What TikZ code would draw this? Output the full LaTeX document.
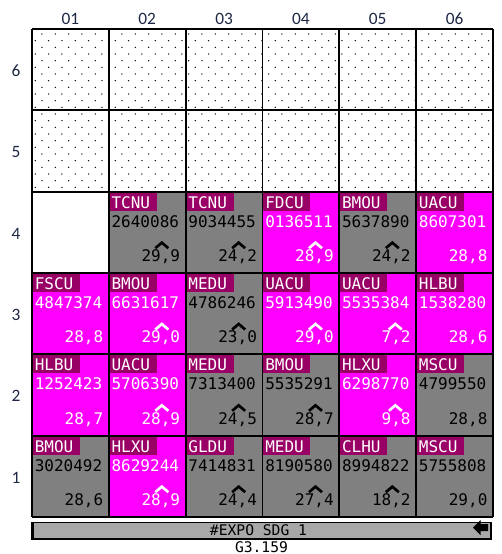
\documentclass[tikz,border=0pt]{standalone}
\usepackage{fontspec}
\newfontfamily\cellfont{DejaVu Sans Mono}
\newfontfamily\axisfont{Carlito}
\definecolor{cmag}{RGB}{255,0,255}
\definecolor{cgry}{RGB}{128,128,128}
\definecolor{clbl}{RGB}{153,0,102}
\definecolor{cbar}{RGB}{168,168,168}
\definecolor{caxis}{RGB}{30,40,70}
\tikzset{
  magfill/.style={fill=cmag}, magtext/.style={text=white}, magink/.style={draw=white},
  gryfill/.style={fill=cgry}, grytext/.style={text=black}, gryink/.style={draw=black},
  whtfill/.style={fill=white},
  lbltxt/.style={inner sep=0pt, text=white, font=\cellfont\fontsize{12}{12}\selectfont},
  numtxt/.style={inner sep=0pt, font=\cellfont\fontsize{12}{12}\selectfont},
  caretline/.style={line width=2pt, line join=miter, miter limit=10},
  gridline/.style={line width=1.4pt, black},
  axislbl/.style={font=\axisfont\fontsize{13}{13}\selectfont, text=caxis, inner sep=0pt},
  bartxt/.style={font=\cellfont\fontsize{11}{11}\selectfont, inner sep=0pt},
}
\newcommand\ctcell[7]{%
  \pgfmathsetmacro\cx{32+(#1-1)*76.83}%
  \pgfmathsetmacro\cy{29+(6-#2)*81.33}%
  \path[#3fill] (\cx,\cy) rectangle ++(76.83,81.33);
  \path[fill=clbl] (\cx+1,\cy+1) rectangle ++(47,18);
  \node[lbltxt, anchor=base west] (L#1#2) at (\cx+2.5,\cy+16.5) {#4};
  \node[numtxt, #3text, anchor=base west] (N#1#2) at (\cx+2.5,\cy+35.5) {#5};
  \node[numtxt, #3text, anchor=base east] (V#1#2) at (\cx+71.5,\cy+70) {#6};
  \ifnum#7>0
    \draw[caretline, #3ink] (\cx+#7-6.5,\cy+56.5) -- (\cx+#7,\cy+51) -- (\cx+#7+6.5,\cy+56.5);
  \fi
}
\begin{document}
\begin{tikzpicture}[x=0.75pt,y=-0.75pt]
\useasboundingbox (0,0) rectangle (501,554);
\fill[white] (0,0) rectangle (501,554);
% dotted area (rows 5 and 6)
\begin{scope}
  \clip (32,29) rectangle (493,192);
  \foreach \j in {0,...,23}{
    \foreach \i in {0,...,34}{
      \fill[black] ({35.3+6.667*mod(\j+1,2)+13.333*\i},{34+6.667*\j}) circle[radius=0.55pt];
    }
  }
\end{scope}
% row 4
\path[whtfill] (32,192) rectangle ++(76.83,81.33);
\ctcell{2}{4}{gry}{TCNU}{2640086}{29,9}{53}
\ctcell{3}{4}{gry}{TCNU}{9034455}{24,2}{53}
\ctcell{4}{4}{mag}{FDCU}{0136511}{28,9}{53}
\ctcell{5}{4}{gry}{BMOU}{5637890}{24,2}{53}
\ctcell{6}{4}{mag}{UACU}{8607301}{28,8}{0}
% row 3
\ctcell{1}{3}{mag}{FSCU}{4847374}{28,8}{0}
\ctcell{2}{3}{mag}{BMOU}{6631617}{29,0}{53}
\ctcell{3}{3}{gry}{MEDU}{4786246}{23,0}{53}
\ctcell{4}{3}{mag}{UACU}{5913490}{29,0}{53}
\ctcell{5}{3}{mag}{UACU}{5535384}{7,2}{56}
\ctcell{6}{3}{mag}{HLBU}{1538280}{28,6}{0}
% row 2
\ctcell{1}{2}{mag}{HLBU}{1252423}{28,7}{0}
\ctcell{2}{2}{mag}{UACU}{5706390}{28,9}{53}
\ctcell{3}{2}{gry}{MEDU}{7313400}{24,5}{53}
\ctcell{4}{2}{gry}{BMOU}{5535291}{28,7}{53}
\ctcell{5}{2}{mag}{HLXU}{6298770}{9,8}{56}
\ctcell{6}{2}{gry}{MSCU}{4799550}{28,8}{0}
% row 1
\ctcell{1}{1}{gry}{BMOU}{3020492}{28,6}{0}
\ctcell{2}{1}{mag}{HLXU}{8629244}{28,9}{53}
\ctcell{3}{1}{gry}{GLDU}{7414831}{24,4}{53}
\ctcell{4}{1}{gry}{MEDU}{8190580}{27,4}{53}
\ctcell{5}{1}{gry}{CLHU}{8994822}{18,2}{53}
\ctcell{6}{1}{gry}{MSCU}{5755808}{29,0}{0}
% grid
\foreach \i in {0,...,6}{
  \draw[gridline] ({32+76.83*\i},29) -- ({32+76.83*\i},517);
  \draw[gridline] (32,{29+81.33*\i}) -- (493,{29+81.33*\i});
}
% axis labels
\foreach \i/\t in {1/01,2/02,3/03,4/04,5/05,6/06}{
  \node[axislbl] (col\t) at ({32+76.83*(\i-0.5)},18.5) {\t};
}
\foreach \r in {1,...,6}{
  \node[axislbl] (row\r) at (16,{29+81.33*(6-\r)+42}) {\r};
}
% bottom bar
\path[fill=cbar, draw=black, line width=1.1pt] (32,522.5) rectangle (491,539);
\draw[line width=2.2pt] (32.5,522) -- (32.5,539.5);
\node[bartxt] (bar) at (258.5,530.5) {\#EXPO SDG 1};
\fill[black] (473,527.5) -- (480.5,520) -- (480.5,524) -- (488,524) -- (488,531) -- (480.5,531) -- (480.5,535) -- cycle;
\node[bartxt, anchor=base] (g3) at (261.5,552) {G3.159};
\end{tikzpicture}
\end{document}
